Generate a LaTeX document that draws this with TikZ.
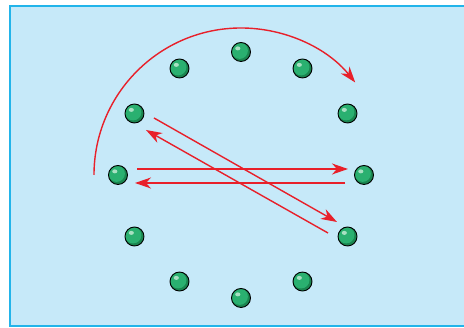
\documentclass[tikz,border=0pt]{standalone}
\usepackage{tikz}
\usetikzlibrary{arrows.meta, calc}
\definecolor{skyfill}{HTML}{C6E9F9}
\definecolor{skyedge}{HTML}{22B4EA}
\definecolor{ballgreen}{HTML}{2AB070}
\definecolor{balldark}{HTML}{1A8550}
\definecolor{ballshine}{HTML}{A8E0C2}
\definecolor{arrowred}{HTML}{E8202A}

\tikzset{
  ball/.style={circle, draw=black, line width=0.9pt, fill=balldark,
    minimum size=19pt, inner sep=0pt,
    path picture={
      \fill[ballgreen, shift={(path picture bounding box.center)}] (-1.3pt,1.3pt) circle (8.2pt);
      \fill[ballshine, shift={(path picture bounding box.center)}] (-3.2pt,3.6pt) ellipse (2.6pt and 2pt);
    }},
  swap/.style={draw=arrowred, line width=1.4pt,
    -{Stealth[length=16pt, width=11pt, inset=5pt]}}
}

\begin{document}
\begin{tikzpicture}[x=1pt, y=1pt]
  \useasboundingbox (0,0) rectangle (464,328);
  % plate
  \draw[skyedge, line width=1.5pt, fill=skyfill] (10,2) rectangle (475,322);
  \coordinate (c) at (241,153);
  % twelve balls
  \foreach \i in {0,...,11}
    \node[ball] (b\i) at ($(c)+({90-30*\i}:123)$) {};
  % turn of the ring
  \draw[swap] (94,153) arc (180:39:147);
  % crossings
  \coordinate (d1s) at (154,210);
  \coordinate (d1e) at (337,106);
  \coordinate (d2s) at (328,95);
  \coordinate (d2e) at (146,198);
  \coordinate (h1s) at (137,159);
  \coordinate (h1e) at (348,159);
  \coordinate (h2s) at (345,145);
  \coordinate (h2e) at (135,145);
  \draw[swap] (d1s) -- (d1e);
  \draw[swap] (d2s) -- (d2e);
  \draw[swap] (h1s) -- (h1e);
  \draw[swap] (h2s) -- (h2e);
\end{tikzpicture}
\end{document}
